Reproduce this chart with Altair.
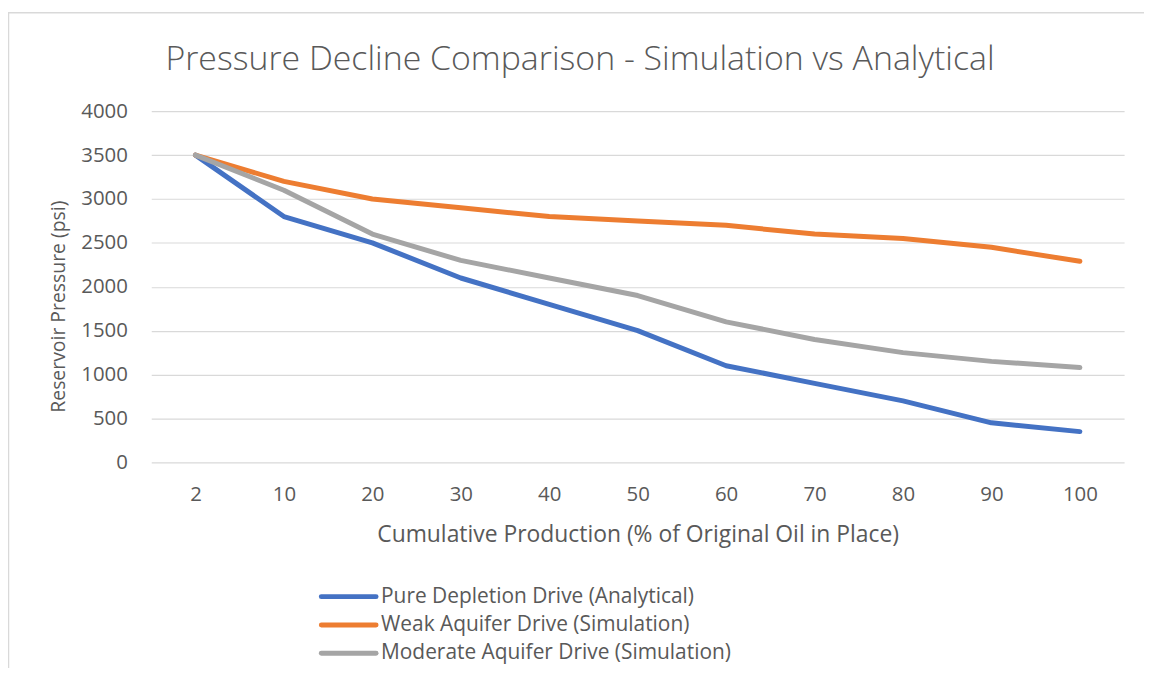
import altair as alt
import pandas as pd

categories = ["2", "10", "20", "30", "40", "50", "60", "70", "80", "90", "100"]
series_names = [
    "Pure Depletion Drive (Analytical)",
    "Weak Aquifer Drive (Simulation)",
    "Moderate Aquifer Drive (Simulation)",
]
pure_depletion = [3500, 2800, 2500, 2100, 1800, 1500, 1100, 900, 700, 450, 350]
weak_aquifer = [3500, 3200, 3000, 2900, 2800, 2750, 2700, 2600, 2550, 2450, 2290]
moderate_aquifer = [3500, 3100, 2600, 2300, 2100, 1900, 1600, 1400, 1250, 1150, 1080]
colors = ["#4472C4", "#ED7D31", "#A5A5A5"]
y_ticks = [0, 500, 1000, 1500, 2000, 2500, 3000, 3500, 4000]
chart_title = "Pressure Decline Comparison - Simulation vs Analytical"

rows = []
for name, vals in zip(series_names, [pure_depletion, weak_aquifer, moderate_aquifer]):
    for c, v in zip(categories, vals):
        rows.append({"Production": c, "Pressure": v, "Series": name})
df = pd.DataFrame(rows)
title_df = pd.DataFrame({"t": [chart_title]})
legend_df = pd.DataFrame({"Series": series_names})

FONT = "Open Sans"
TXT = "#595959"

color_enc = alt.Color("Series:N", sort=series_names,
                      scale=alt.Scale(domain=series_names, range=colors), legend=None)

lines = alt.Chart(df).mark_line(strokeWidth=5, strokeCap="round", strokeJoin="round").encode(
    x=alt.X("Production:O", sort=categories,
            scale=alt.Scale(padding=0.5),
            axis=alt.Axis(title="Cumulative Production (% of Original Oil in Place)",
                          labelAngle=0, ticks=False, domain=False, grid=False,
                          labelPadding=22, titlePadding=19,
                          labelFontSize=20.5, titleFontSize=23,
                          labelColor=TXT, titleColor=TXT,
                          labelFont=FONT, titleFont=FONT, titleFontWeight="normal")),
    y=alt.Y("Pressure:Q", scale=alt.Scale(domain=[0, 4000], nice=False),
            axis=alt.Axis(title="Reservoir Pressure (psi)", values=y_ticks, format="d",
                          ticks=False, domain=False, grid=True,
                          gridColor="#D9D9D9", gridWidth=1.2,
                          labelPadding=24, titlePadding=12, titleY=196,
                          labelFontSize=20.5, titleFontSize=19.5,
                          labelColor=TXT, titleColor=TXT,
                          labelFont=FONT, titleFont=FONT, titleFontWeight="normal")),
    color=color_enc,
)

legend_y = alt.Y("Series:N", sort=series_names,
                 scale=alt.Scale(type="point", domain=series_names, range=[488, 545], padding=0),
                 axis=None)
legend_lines = alt.Chart(legend_df).mark_rule(strokeWidth=5, strokeCap="round").encode(
    x=alt.value(171), x2=alt.value(226), y=legend_y, color=color_enc
)
legend_text = alt.Chart(legend_df).mark_text(
    font=FONT, fontSize=21, color=TXT, align="left", baseline="middle"
).encode(x=alt.value(231), y=legend_y, text="Series:N")
legend_layer = alt.layer(legend_lines, legend_text)

title_mark = alt.Chart(title_df).mark_text(
    font=FONT, fontSize=34, fontWeight=300, color=TXT, align="center", baseline="alphabetic"
).encode(x=alt.value(431), y=alt.value(-41), text="t:N")

frame_top = alt.Chart(title_df).mark_rule(color="#D9D9D9", strokeWidth=1.5).encode(
    x=alt.value(-144), x2=alt.value(1020), y=alt.value(-99)
)
frame_left = alt.Chart(title_df).mark_rule(color="#D9D9D9", strokeWidth=1.5).encode(
    x=alt.value(-143.5), y=alt.value(-99), y2=alt.value(600)
)

chart = alt.layer(frame_top, frame_left, title_mark, lines, legend_layer).resolve_scale(
    y="independent"
).properties(
    width=978, height=353,
    padding={"left": 144, "top": 102, "right": 20, "bottom": 205},
    autosize=alt.AutoSizeParams(type="none"),
).configure_view(stroke=None)

chart.save("out.html", embed_options={"renderer": "svg", "actions": False})
